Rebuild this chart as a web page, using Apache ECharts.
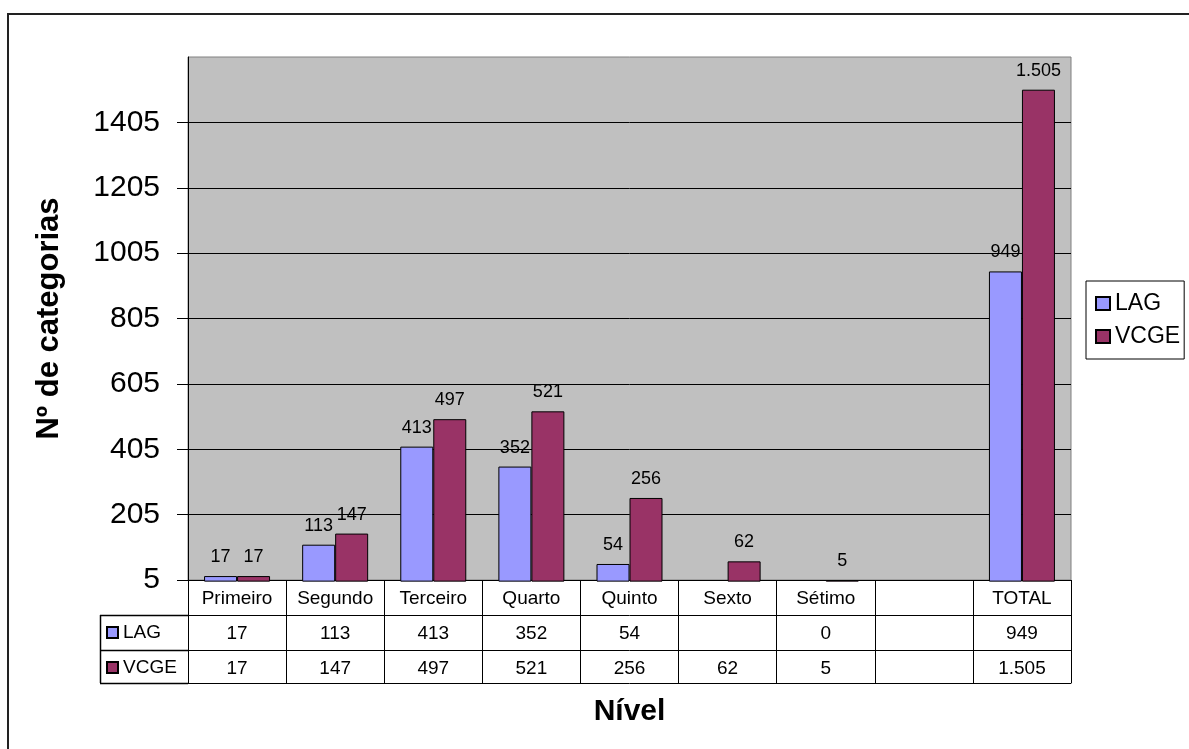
<!DOCTYPE html>
<html>
<head>
<meta charset="utf-8">
<title>Nº de categorias por nível</title>
<script src="https://cdn.jsdelivr.net/npm/echarts@6/dist/echarts.min.js"></script>
<style>
html,body{margin:0;padding:0;background:#fff;}
#chart{width:1189px;height:749px;}
</style>
</head>
<body>
<div id="chart"></div>
<script>
// dados
var niveis = ['Primeiro','Segundo','Terceiro','Quarto','Quinto','Sexto','Sétimo','','TOTAL'];
var lag  = [17, 113, 413, 352, 54, null, 0, null, 949];
var vcge = [17, 147, 497, 521, 256, 62, 5, null, 1505];
var yMin = 5, yMax = 1605, yStep = 200;

var FONT = 'Arial, "Liberation Sans", sans-serif';
var COR_LAG = '#9999FF', COR_VCGE = '#993366';

function fmt(v){
	if(v==null) return '';
	return String(v).replace(/\B(?=(\d{3})+(?!\d))/g,'.');
}
// valores abaixo do mínimo do eixo não aparecem como barra
function barData(arr){
	return arr.map(function(v){ return (v==null || v<yMin) ? null : v; });
}
function rowAxis(values, offset, tickLen){
	return {
		type:'category', position:'bottom', offset:offset, data:niveis,
		axisLine:{lineStyle:{color:'#000',width:1}},
		axisTick:{show:true,length:tickLen,interval:0,lineStyle:{color:'#000'}},
		axisLabel:{interval:0,margin:9,color:'#000',fontSize:19,fontFamily:FONT,
			formatter:function(val,idx){return fmt(values[idx]);}}
	};
}
var barLabel = {
	show:true, position:'top', distance:10, color:'#000', fontSize:18, fontFamily:FONT,
	formatter:function(p){ return fmt(p.value); }
};

var chart = echarts.init(document.getElementById('chart'));
var option = {
	animation:false,
	backgroundColor:'#fff',
	textStyle:{fontFamily:FONT},
	grid:{left:188, right:118, top:57, bottom:169, show:true,
		backgroundColor:'#C0C0C0', borderColor:'#808080', borderWidth:1},
	legend:[
		{data:['LAG','VCGE'], orient:'vertical', left:1086, top:281,
			padding:[11,4,11,9], itemGap:10, itemWidth:14, itemHeight:13, itemTextGap:9,
			icon:'rect', borderColor:'#000', borderWidth:1, backgroundColor:'#fff',
			textStyle:{color:'#000',fontSize:23,fontFamily:FONT,lineHeight:23}},
		{data:['LAG','VCGE'], orient:'vertical', left:106, top:623,
			padding:0, itemGap:16, itemWidth:11, itemHeight:11, itemTextGap:6,
			icon:'rect', selectedMode:false,
			textStyle:{color:'#000',fontSize:19,fontFamily:FONT,lineHeight:19}}
	],
	xAxis:[
		{
			type:'category', position:'bottom', data:niveis,
			axisLine:{lineStyle:{color:'#000',width:1}},
			axisTick:{show:true,length:35,interval:0,lineStyle:{color:'#000'}},
			axisLabel:{interval:0,margin:9,color:'#000',fontSize:19,fontFamily:FONT}
		},
		rowAxis(lag, 35, 35),
		rowAxis(vcge, 70, 33),
		{
			type:'category', position:'bottom', offset:103, data:niveis,
			axisLine:{lineStyle:{color:'#000',width:1}},
			axisTick:{show:false}, axisLabel:{show:false},
			name:'Nível', nameLocation:'middle', nameGap:14,
			nameTextStyle:{color:'#000',fontSize:30,fontWeight:'bold',fontFamily:FONT}
		}
	],
	yAxis:{
		type:'value', min:yMin, max:yMax, interval:yStep,
		name:'Nº de categorias', nameLocation:'middle', nameGap:123,
		nameTextStyle:{color:'#000',fontSize:31,fontWeight:'bold',fontFamily:FONT},
		axisLine:{show:true,lineStyle:{color:'#000',width:1}},
		axisTick:{show:true,length:11,lineStyle:{color:'#000'}},
		axisLabel:{margin:28,color:'#000',fontSize:30,fontFamily:FONT,showMaxLabel:false,
			formatter:function(v){return String(v);}},
		splitLine:{show:true,showMaxLine:false,showMinLine:false,lineStyle:{color:'#000',width:1}}
	},
	series:[
		{name:'LAG', type:'bar', data:barData(lag), barWidth:33, barGap:'0%',
			startValue:yMin, clip:false,
			itemStyle:{color:COR_LAG,borderColor:'#000',borderWidth:1}, label:barLabel},
		{name:'VCGE', type:'bar', data:barData(vcge), barWidth:33, barGap:'0%',
			startValue:yMin, clip:false,
			itemStyle:{color:COR_VCGE,borderColor:'#000',borderWidth:1}, label:barLabel}
	],
	graphic:[
		// borda da área do gráfico
		{type:'rect', shape:{x:8,y:14,width:1300,height:900}, silent:true,
			style:{fill:null,stroke:'#222',lineWidth:2}},
		// coluna da legenda da tabela
		{type:'line', shape:{x1:100.5,y1:615,x2:100.5,y2:683}, style:{stroke:'#000',lineWidth:1.5}},
		{type:'line', shape:{x1:100,y1:615.5,x2:188,y2:615.5}, style:{stroke:'#000',lineWidth:1.5}},
		{type:'line', shape:{x1:100,y1:650.5,x2:188,y2:650.5}, style:{stroke:'#000',lineWidth:1.5}},
		{type:'line', shape:{x1:100,y1:683.5,x2:188,y2:683.5}, style:{stroke:'#000',lineWidth:1.5}}
	]
};
chart.setOption(option);
</script>
</body>
</html>
